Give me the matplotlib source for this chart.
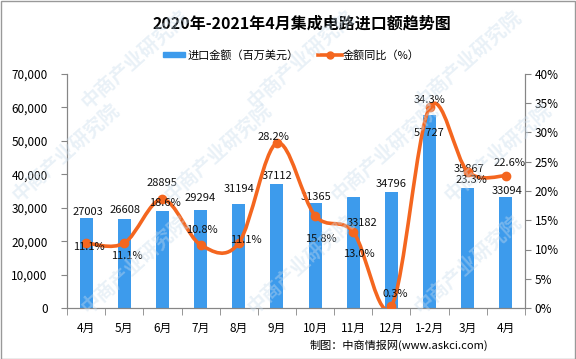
import numpy as np
import matplotlib
matplotlib.use('Agg')
import matplotlib.pyplot as plt
from matplotlib.path import Path
from matplotlib.patches import PathPatch, Rectangle
from matplotlib.ticker import StrMethodFormatter, FuncFormatter, FixedLocator

plt.rcParams['font.family'] = ['Noto Sans CJK SC', 'DejaVu Sans']

# data
months = ['4月', '5月', '6月', '7月', '8月', '9月', '10月', '11月', '12月', '1-2月', '3月', '4月']
amounts = [27003, 26608, 28895, 29294, 31194, 37112, 31365, 33182, 34796, 57727, 35867, 33094]
growth = [11.1, 11.1, 18.6, 10.8, 11.1, 28.2, 15.8, 13.0, 0.3, 34.3, 23.3, 22.6]

# label nudges in pixels (layout only)
amount_offsets = [(2, 6), (1, 9), (0, 28), (0, 12), (0, 15), (0, 8),
                  (1, 6), (9, -26), (0, 8), (0, -18), (1, 19), (1, 6)]
growth_offsets = [(3, -4), (3, -13), (3, -4), (1, 15), (7, 3), (-3, 6),
                  (6, -23), (6, -22), (4, 12), (0, 7), (4, -8), (4, 13)]

bar_color = '#3d9bec'
line_color = '#f4661f'
axis_color = '#868686'

fig = plt.figure(figsize=(5.76, 3.59), dpi=100)
fig.patches.append(Rectangle((0.001, 0.001), 0.997, 0.996, transform=fig.transFigure,
                             fill=False, edgecolor='#999999', linewidth=1))

ax = fig.add_axes([67 / 576, 51 / 359, (525 - 67) / 576, (308 - 74) / 359])
ax2 = ax.twinx()

x = np.arange(len(months))
ax.bar(x, amounts, width=0.34, color=bar_color, zorder=2)
ax.set_xlim(-0.5, len(months) - 0.5)
ax.set_ylim(0, 70000)
ax.yaxis.set_major_locator(FixedLocator(range(0, 70001, 10000)))
ax.yaxis.set_major_formatter(StrMethodFormatter('{x:,.0f}'))
ax.set_xticks(x)
ax.set_xticklabels(months)
ax.set_xticks(np.arange(-0.5, len(months)), minor=True)
ax.tick_params(axis='x', which='major', length=0, pad=10, labelsize=8.5)
ax.tick_params(axis='x', which='minor', length=5, color=axis_color)
ax.tick_params(axis='y', length=4, color=axis_color, labelsize=8.5, pad=10)

# smooth line through the points (Catmull-Rom as cubic Bezier)
ax2.set_ylim(0, 40)
ax2.set_xlim(ax.get_xlim())
pts = np.column_stack([x, growth]).astype(float)
verts = [tuple(pts[0])]
codes = [Path.MOVETO]
n = len(pts)
for i in range(n - 1):
    p0 = pts[max(i - 1, 0)]
    p1 = pts[i]
    p2 = pts[i + 1]
    p3 = pts[min(i + 2, n - 1)]
    c1 = p1 + (p2 - p0) / 6
    c2 = p2 - (p3 - p1) / 6
    verts += [tuple(c1), tuple(c2), tuple(p2)]
    codes += [Path.CURVE4] * 3
ax2.add_patch(PathPatch(Path(verts, codes), fill=False, edgecolor=line_color,
                        linewidth=2.6, zorder=3, capstyle='round'))
ax2.plot(x, growth, linestyle='none', marker='o', markersize=6,
         color=line_color, zorder=4)
ax2.yaxis.set_major_locator(FixedLocator(range(0, 41, 5)))
ax2.yaxis.set_major_formatter(FuncFormatter(lambda v, p: f'{v:.0f}%'))
ax2.tick_params(axis='y', length=4, color=axis_color, labelsize=8.5, pad=3)

for a in (ax, ax2):
    a.spines['top'].set_visible(False)
    for s in ('left', 'right', 'bottom'):
        a.spines[s].set_color(axis_color)
ax.set_zorder(ax2.get_zorder() - 1)
ax2.patch.set_visible(False)

for i, v in enumerate(amounts):
    ax.annotate(str(v), (x[i], v), xytext=amount_offsets[i], textcoords='offset pixels',
                ha='center', va='center', fontsize=8, color='#111111', zorder=5,
                annotation_clip=False)
for i, g in enumerate(growth):
    ax2.annotate(f'{g:.1f}%', (x[i], g), xytext=growth_offsets[i], textcoords='offset pixels',
                 ha='center', va='center', fontsize=8, color='#111111', zorder=6,
                 annotation_clip=False)

# title, legend, source
fig.text(302 / 576, 1 - 24 / 359, '2020年-2021年4月集成电路进口额趋势图', ha='center', va='center',
         fontsize=11.5, fontweight='bold')
fig.patches.append(Rectangle((163 / 576, 1 - 57 / 359), 22 / 576, 5 / 359,
                             transform=fig.transFigure, color=bar_color))
fig.text(188 / 576, 1 - 55 / 359, '进口金额（百万美元）', ha='left', va='center', fontsize=8)
fig.lines.append(plt.Line2D([318 / 576, 342 / 576], [1 - 55 / 359] * 2, transform=fig.transFigure,
                            color=line_color, linewidth=2.6))
fig.lines.append(plt.Line2D([330 / 576], [1 - 55 / 359], transform=fig.transFigure,
                            color=line_color, marker='o', markersize=5, linestyle='none'))
fig.text(343 / 576, 1 - 55 / 359, '金额同比（%）', ha='left', va='center', fontsize=8)

fig.text(488 / 576, 1 - 345 / 359, '制图：中商情报网(www.askci.com)', ha='right', va='center',
         fontsize=8)

# faint watermark, kept inside the frame
for (wx, wy) in [(77, 317), (243, 317), (410, 317), (8, 205), (160, 205), (327, 205),
                 (440, 205), (77, 112), (243, 112), (410, 112)]:
    fig.text(wx / 576, 1 - wy / 359, '中商产业研究院', rotation=42, ha='left', va='bottom',
             fontsize=14, fontweight='bold', color='#c9dcec', alpha=0.4, zorder=10)

fig.savefig('out.png', dpi=100)
